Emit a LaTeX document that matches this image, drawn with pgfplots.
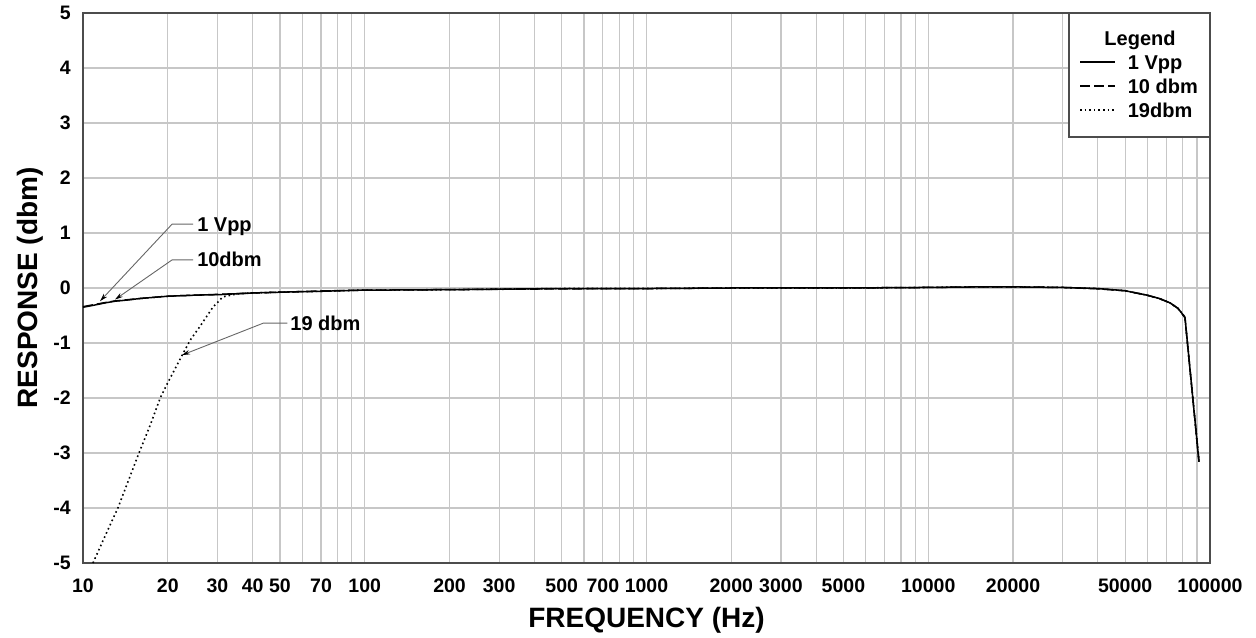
\documentclass[border=0pt]{standalone}
\usepackage{pgfplots}
\pgfplotsset{compat=1.18}
\usepackage{fontspec}
\setmainfont{Liberation Sans}
\usetikzlibrary{arrows.meta}

\pgfplotstableread{
f r
10 -0.35
11 -0.31
12 -0.27
13 -0.24
14.3 -0.22
16 -0.19
18.8 -0.16
20 -0.15
25 -0.13
30.7 -0.12
40 -0.09
55.6 -0.07
70 -0.06
96 -0.04
200 -0.03
500 -0.01
1000 -0.01
2000 0.0
5000 0.0
10000 0.01
15000 0.02
20000 0.02
30000 0.01
40000 -0.01
50000 -0.05
59700 -0.13
66000 -0.19
72100 -0.27
77000 -0.37
81500 -0.53
91400 -3.16
}\vpp

\pgfplotstableread{
f r
10 -0.34
11 -0.30
12 -0.265
13 -0.235
14.3 -0.215
16 -0.19
18.8 -0.16
20 -0.15
25 -0.13
30.7 -0.115
40 -0.09
55.6 -0.07
70 -0.055
96 -0.04
200 -0.03
500 -0.015
1000 -0.01
2000 0.0
5000 0.0
10000 0.01
15000 0.02
20000 0.02
30000 0.01
40000 -0.015
50000 -0.05
59700 -0.13
66000 -0.19
72100 -0.27
77000 -0.37
81500 -0.54
91400 -3.15
}\tendbm

\pgfplotstableread{
f r
10.85 -5.0
12 -4.5
13.3 -4.0
14.5 -3.5
15.8 -3.0
17.3 -2.5
18.8 -2.0
20 -1.72
22.5 -1.22
24 -0.95
26 -0.70
28.9 -0.35
31.4 -0.16
35 -0.11
40 -0.09
55.6 -0.07
70 -0.06
96 -0.04
200 -0.03
500 -0.01
1000 -0.01
2000 0.0
5000 0.0
10000 0.01
15000 0.02
20000 0.02
30000 0.01
40000 -0.01
50000 -0.05
59700 -0.13
66000 -0.19
72100 -0.27
77000 -0.37
81500 -0.53
91400 -3.16
}\nineteendbm

\begin{document}
\begin{tikzpicture}
\begin{axis}[
  at={(0,0)}, anchor=south west,
  scale only axis, width=1127bp, height=550bp,
  xmode=log, log basis x=10,
  xmin=10, xmax=100000, ymin=-5, ymax=5,
  xtick={10,20,30,40,50,60,70,80,90,100,200,300,400,500,600,700,800,900,1000,2000,3000,4000,5000,6000,7000,8000,9000,10000,20000,30000,40000,50000,60000,70000,80000,90000,100000},
  xticklabels={10,20,30,40,50,{},70,{},{},100,200,300,{},500,{},700,{},{},1000,2000,3000,{},5000,{},{},{},{},10000,20000,{},{},50000,{},{},{},{},100000},
  minor xtick={},
  ytick={-5,-4,-3,-2,-1,0,1,2,3,4,5},
  yticklabels={-5,-4,-3,-2,-1,0,1,2,3,4,5},
  grid=major,
  major grid style={draw=black!22, line width=1.2bp},
  major tick length=0pt,
  axis line style={draw=black!70, line width=1.5bp},
  tick label style={font=\fontsize{19.5bp}{22bp}\selectfont\bfseries},
  xticklabel style={anchor=north, inner sep=0pt, yshift=-16bp},
  yticklabel style={anchor=east, inner sep=0pt, xshift=-12bp},
  xlabel={FREQUENCY (Hz)}, ylabel={RESPONSE (dbm)},
  label style={font=\fontsize{28bp}{32bp}\selectfont\bfseries},
  xlabel style={at={(axis description cs:0.5,-0.1164)}, anchor=base},
  ylabel style={at={(axis description cs:-0.0408,0.5)}, anchor=base},
  clip=false,
  legend style={at={(axis description cs:0.8838,0.9236)}, anchor=north west,
    draw=none, fill=none, inner sep=0pt, row sep=10bp, column sep=12bp,
    font=\fontsize{20bp}{22bp}\selectfont\bfseries,
    nodes={inner sep=0pt, text height=14bp, text depth=0pt}},
  legend cell align=left,
  legend image code/.code={\draw[#1] (0bp,0bp) -- (35bp,0bp);},
]
\draw[draw=black!70, line width=1.5bp, fill=white] (axis description cs:0.8749,0.7745) rectangle (axis description cs:1,1);
\node[anchor=base, inner sep=0pt, font=\fontsize{20bp}{22bp}\selectfont\bfseries] at (axis description cs:0.9379,0.9418) {Legend};

\addplot[black, line width=1.5bp] table[x=f, y=r] {\vpp};
\addlegendentry{1 Vpp}
\addplot[black, line width=1.5bp, dash pattern=on 10bp off 4bp] table[x=f, y=r] {\tendbm};
\addlegendentry{10 dbm}
\addplot[black, line width=1.6bp, dash pattern=on 1.6bp off 3bp] table[x=f, y=r] {\nineteendbm};
\addlegendentry{19dbm}

\draw[black!60, line width=0.9bp, -{Stealth[length=8bp,width=4.5bp,black]}] (axis cs:24.6,1.16) -- (axis cs:20.7,1.16) -- (axis cs:11.49,-0.24);
\node[anchor=west, inner sep=0pt, text height=14bp, text depth=0pt, font=\fontsize{20bp}{22bp}\selectfont\bfseries] at (axis cs:25.4,1.16) {1 Vpp};
\draw[black!60, line width=0.9bp, -{Stealth[length=8bp,width=4.5bp,black]}] (axis cs:24.6,0.51) -- (axis cs:20.7,0.51) -- (axis cs:12.99,-0.21);
\node[anchor=west, inner sep=0pt, text height=14bp, text depth=0pt, font=\fontsize{20bp}{22bp}\selectfont\bfseries] at (axis cs:25.4,0.52) {10dbm};
\draw[black!60, line width=0.9bp, -{Stealth[length=8bp,width=4.5bp,black]}] (axis cs:53.1,-0.64) -- (axis cs:43.6,-0.64) -- (axis cs:22.45,-1.22);
\node[anchor=west, inner sep=0pt, text height=14bp, text depth=0pt, font=\fontsize{20bp}{22bp}\selectfont\bfseries] at (axis cs:54.4,-0.64) {19 dbm};
\end{axis}
\pgfresetboundingbox
\path[use as bounding box] (-83bp,-75bp) rectangle (1173bp,563bp);
\end{tikzpicture}
\end{document}
